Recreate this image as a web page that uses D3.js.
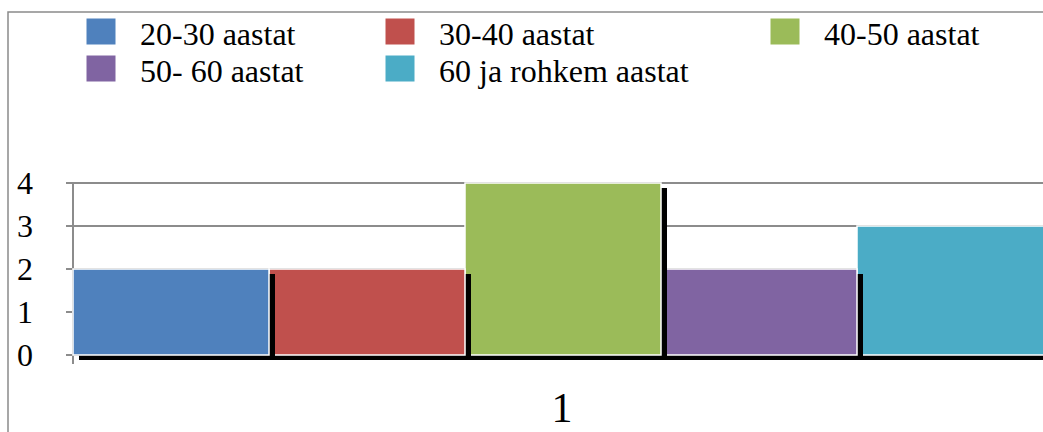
<!DOCTYPE html>
<html>
<head>
<meta charset="utf-8">
<script src="https://cdn.jsdelivr.net/npm/d3@7"></script>
<style>
  body { margin: 0; background: #fff; }
  text { font-family: "Liberation Serif", "DejaVu Serif", serif; }
</style>
</head>
<body>
<svg id="chart" width="1043" height="432"></svg>
<script>
  // data
  const categories = ["1"];
  const seriesNames = ["20-30 aastat", "30-40 aastat", "40-50 aastat", "50- 60 aastat", "60 ja rohkem aastat"];
  const seriesValues = [2, 2, 4, 2, 3];
  const seriesColors = ["#4f81bd", "#c0504d", "#9bbb59", "#8064a2", "#4bacc6"];
  const yTicks = [0, 1, 2, 3, 4];

  const serif = "Liberation Serif";
  const svg = d3.select("#chart");

  // outer frame (runs off the right and bottom edges)
  svg.append("rect")
    .attr("x", 8).attr("y", 12)
    .attr("width", 1100).attr("height", 500)
    .attr("fill", "none")
    .attr("stroke", "#8a8a8a")
    .attr("stroke-width", 1.5);

  const y = d3.scaleLinear().domain([0, 4]).range([355, 183]);
  const x = d3.scaleBand().domain(seriesNames).range([73, 1053]).padding(0);

  // gridlines
  svg.selectAll("line.grid").data(yTicks).enter().append("line")
    .attr("class", "grid")
    .attr("x1", 66).attr("x2", 1043)
    .attr("y1", d => y(d)).attr("y2", d => y(d))
    .attr("stroke", "#8c8c8c")
    .attr("stroke-width", 2);

  // y axis line
  svg.append("line")
    .attr("x1", 73).attr("x2", 73)
    .attr("y1", y(4)).attr("y2", y(0) + 9)
    .attr("stroke", "#8c8c8c")
    .attr("stroke-width", 2);

  // y labels
  svg.selectAll("text.ytick").data(yTicks).enter().append("text")
    .attr("class", "ytick")
    .attr("x", 33)
    .attr("y", d => y(d))
    .attr("dy", "0.35em")
    .attr("text-anchor", "end")
    .attr("font-family", serif)
    .attr("font-size", 32)
    .text(d => d);

  // bars, drawn last-to-first so each shadow lies over the next bar
  const order = d3.range(seriesNames.length).reverse();
  const bars = svg.selectAll("g.bar").data(order).enter().append("g").attr("class", "bar");

  bars.append("rect")
    .attr("x", i => x(seriesNames[i]) + 6)
    .attr("y", i => y(seriesValues[i]) + 5)
    .attr("width", x.bandwidth())
    .attr("height", i => y(0) - y(seriesValues[i]))
    .attr("fill", "#000");

  bars.append("rect")
    .attr("x", i => x(seriesNames[i]))
    .attr("y", i => y(seriesValues[i]))
    .attr("width", x.bandwidth())
    .attr("height", i => y(0) - y(seriesValues[i]))
    .attr("fill", i => seriesColors[i])
    .attr("stroke", "#fff")
    .attr("stroke-width", 1.5);

  // category label
  svg.append("text")
    .attr("x", 562)
    .attr("y", 422)
    .attr("text-anchor", "middle")
    .attr("font-family", serif)
    .attr("font-size", 42)
    .text(categories[0]);

  // legend
  const legendPos = [[86, 18], [385, 18], [770, 18], [86, 55], [385, 55]];
  const legend = svg.selectAll("g.legend").data(seriesNames).enter().append("g")
    .attr("class", "legend")
    .attr("transform", (d, i) => `translate(${legendPos[i][0]},${legendPos[i][1]})`);

  legend.append("rect")
    .attr("width", 30).attr("height", 27)
    .attr("fill", (d, i) => seriesColors[i])
    .attr("stroke", "#fff")
    .attr("stroke-width", 1);

  legend.append("text")
    .attr("x", 54)
    .attr("y", 27)
    .attr("font-family", serif)
    .attr("font-size", 32)
    .text(d => d);
</script>
</body>
</html>
